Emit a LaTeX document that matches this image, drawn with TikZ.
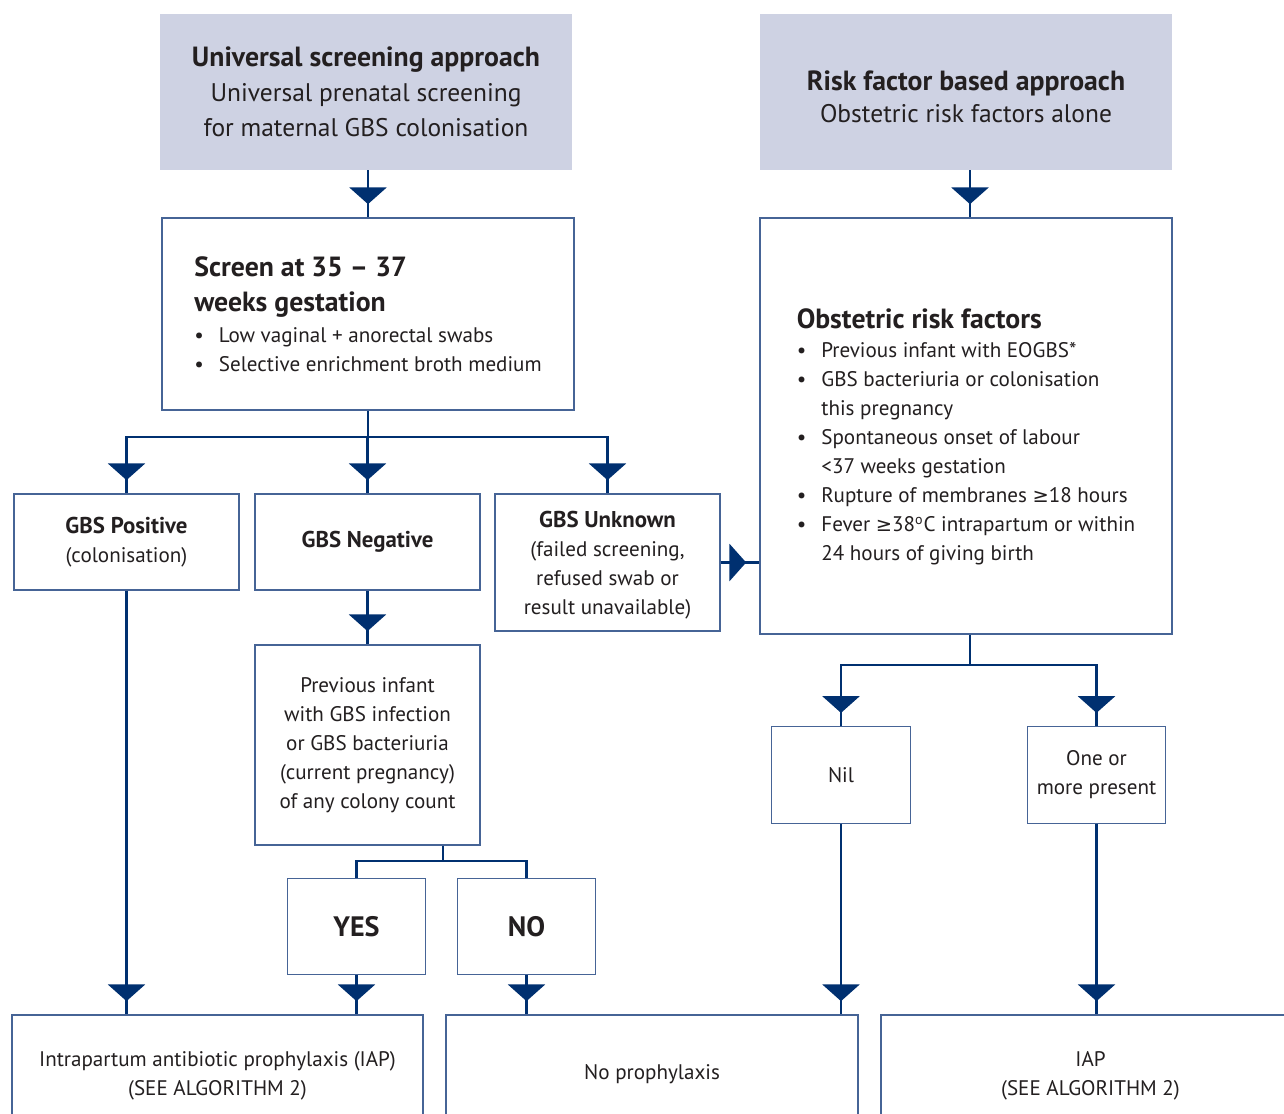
\documentclass[tikz,border=0pt]{standalone}
\usepackage{fontspec}
\setmainfont{PT Sans}
\newfontfamily\symf[Scale=0.92]{DejaVu Sans}
\usetikzlibrary{positioning, arrows.meta, decorations.markings}
\definecolor{navy}{RGB}{0,48,112}
\definecolor{boxline}{RGB}{70,100,150}
\definecolor{headfill}{RGB}{206,210,227}
\definecolor{ink}{RGB}{35,31,32}
\newcommand{\hd}[1]{{\fontsize{15.8}{20}\selectfont\bfseries #1}}
\newcommand{\bhd}[1]{{\fontsize{13}{16.5}\selectfont\bfseries #1}}
\newcommand{\bul}{\makebox[14pt][l]{\textbullet}}
\newcommand{\ind}{\hspace*{14pt}}
\newcommand{\gte}{{\symf ≥}}
\tikzset{
	head/.style={fill=headfill, text=ink, inner sep=0pt, align=center, minimum width=8.24cm, minimum height=3.12cm, font=\fontsize{14.5}{19.8}\selectfont},
	box/.style={draw=boxline, line width=0.8pt, fill=white, text=ink, inner sep=0pt, align=center, font=\fontsize{12}{16.5}\selectfont},
	smallbox/.style={box, minimum width=4.5cm},
	tinybox/.style={box, minimum width=2.77cm, minimum height=1.93cm},
	endbox/.style={box, minimum height=2.42cm},
	link/.style={color=navy, line width=1.6pt},
	flow/.style={link, postaction={decorate},
		decoration={markings, mark=at position -7.5pt with {\arrow{Triangle[width=21pt,length=9.5pt]}}}},
}

\begin{document}
\begin{tikzpicture}[x=0.02cm, y=-0.02cm]
	\useasboundingbox (0,0) rectangle (1284,1113);
	\clip (0,0) rectangle (1284,1113);
	
	% Headers
	\node[head] (uni) at (366,92) {\hd{Universal screening approach}\\Universal prenatal screening\\for maternal GBS colonisation};
	\node[head] (risk) at (966,92) {\rule{0pt}{16.5pt}\hd{Risk factor based approach}\\[-1.8pt]Obstetric risk factors alone};
	
	% Left branch
	\node[box, minimum width=8.24cm, minimum height=3.84cm, align=left] (screen) at (368,314)
		{\hd{Screen at 35 -- 37}\\[3.5pt]\hd{weeks gestation}\\[1pt]\bul Low vaginal + anorectal swabs\\\bul Selective enrichment broth medium};
	\node[smallbox, minimum height=1.92cm] (pos) at (126.5,542) {\bhd{GBS Positive}\\(colonisation)};
	\node[smallbox, minimum height=1.92cm] (neg) at (367.5,542) {\bhd{GBS Negative}};
	\node[smallbox, minimum height=2.74cm] (unk) at (607.5,562.5)
		{\rule{0pt}{12pt}\bhd{GBS Unknown}\\(failed screening,\\refused swab or\\result unavailable)};
	\node[smallbox, minimum height=4cm] (prev) at (367.5,745)
		{Previous infant\\with GBS infection\\or GBS bacteriuria\\(current pregnancy)\\of any colony count};
	\node[tinybox, font=\fontsize{16}{20}\selectfont\bfseries] (yes) at (356.5,926.5) {YES};
	\node[tinybox, font=\fontsize{16}{20}\selectfont\bfseries] (no) at (526.5,926.5) {NO};
	
	% Right branch
	\node[box, minimum width=8.24cm, minimum height=8.32cm, align=left] (obst) at (966,426)
		{\rule{0pt}{24pt}\hd{Obstetric risk factors}\\
		\bul Previous infant with EOGBS*\\
		\bul GBS bacteriuria or colonisation\\
		\ind this pregnancy\\
		\bul Spontaneous onset of labour\\
		\ind <37 weeks gestation\\
		\bul Rupture of membranes \gte18 hours\\
		\bul Fever \gte38\textsuperscript{o}C intrapartum or within\\
		\ind 24 hours of giving birth};
	\node[tinybox] (nil) at (841,775) {Nil};
	\node[tinybox] (one) at (1096.5,775) {One or\\more present};
	
	% Outcomes
	\node[endbox, minimum width=8.22cm] (iap1) at (217.5,1075.5) {Intrapartum antibiotic prophylaxis (IAP)\\(SEE ALGORITHM 2)};
	\node[endbox, minimum width=8.24cm] (nop) at (652,1075.5) {\raisebox{4.4pt}{No prophylaxis}};
	\node[endbox, minimum width=8.38cm] (iap2) at (1090.5,1075.5) {IAP\\(SEE ALGORITHM 2)};
	
	% Connectors
	\coordinate (bus) at (368,437);
	\coordinate (bus2) at (970,665);
	\coordinate (bus3) at (443,861);
	\draw[flow] (uni.south -| screen) -- (screen);
	\draw[flow] (risk.south -| bus2) -- (bus2 |- obst.north);
	\draw[link] (screen) -- (bus);
	\draw[flow] (bus) -| (pos);
	\draw[flow] (bus) -| (neg);
	\draw[flow] (bus) -| (unk);
	\draw[flow] (unk.east) -- (unk.east -| obst.west);
	\draw[link] (obst.south -| bus2) -- (bus2);
	\draw[flow] (bus2) -| (nil);
	\draw[flow] (bus2) -| (one);
	\draw[flow] (neg) -- (prev);
	\draw[link] (prev.south -| bus3) -- (bus3);
	\draw[link] (bus3) -| (yes);
	\draw[link] (bus3) -| (no);
	\draw[flow] (pos) -- (pos |- iap1.north);
	\draw[flow] (yes) -- (yes |- iap1.north);
	\draw[flow] (no) -- (no |- nop.north);
	\draw[flow] (nil) -- (nil |- nop.north);
	\draw[flow] (one) -- (one |- iap2.north);
\end{tikzpicture}
\end{document}
